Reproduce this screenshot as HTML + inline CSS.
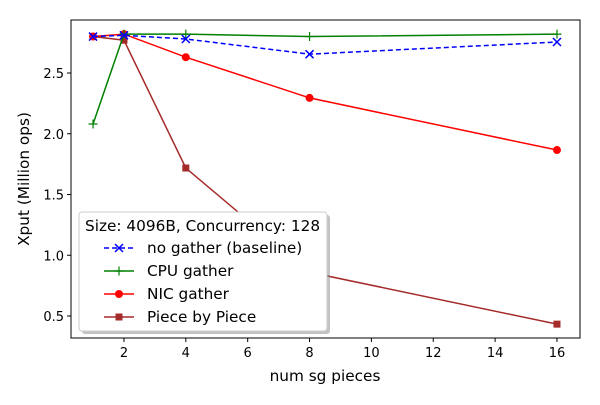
<!DOCTYPE html>
<html><head><meta charset="utf-8"><style>
body{margin:0;background:#fff;font-family:"Liberation Sans","DejaVu Sans",sans-serif;}
</style></head><body>
<svg id="c" width="600" height="400" xmlns="http://www.w3.org/2000/svg" font-family="'DejaVu Sans','Liberation Sans',sans-serif"></svg>
<script>
const xs = [1, 2, 4, 8, 16];
const noGather = [2.80, 2.81, 2.78, 2.655, 2.755];
const cpuGather = [2.08, 2.82, 2.82, 2.80, 2.82];
const nicGather = [2.80, 2.82, 2.63, 2.295, 1.866];
const pieceByPiece = [2.80, 2.77, 1.718, 0.86, 0.433];
const xTicks = [2, 4, 6, 8, 10, 12, 14, 16];
const yTicks = [0.5, 1.0, 1.5, 2.0, 2.5];

const NS = "http://www.w3.org/2000/svg";
const svg = document.getElementById('c');
const L=71,R=580,T=20,B=338;
const xS = v => 62.1 + v*30.93;
const yS = v => 376.75 - v*121.5;
function el(tag, attrs, parent){const e=document.createElementNS(NS,tag);for(const k in attrs)e.setAttribute(k,attrs[k]);(parent||svg).appendChild(e);return e;}

const frame = el('rect',{x:L,y:T,width:R-L,height:B-T,fill:'none',stroke:'#000','stroke-width':1});



xTicks.forEach(t=>{
  const g=el('g',{});
  
  
  el('line',{x1:xS(t),x2:xS(t),y1:B,y2:B+4,stroke:'#000'},g);
  const tx=el('text',{x:xS(t),y:B+19,'text-anchor':'middle','font-size':13},g);tx.textContent=t;
});
yTicks.forEach(t=>{
  const g=el('g',{});
  
  
  el('line',{x1:L-4,x2:L,y1:yS(t),y2:yS(t),stroke:'#000'},g);
  const tx=el('text',{x:L-7,y:yS(t)+5,'text-anchor':'end','font-size':13},g);tx.textContent=t.toFixed(1);
});
const xt=el('text',{x:325,y:381,'text-anchor':'middle','font-size':15.3});xt.textContent='num sg pieces';


const yt=el('text',{x:0,y:0,'text-anchor':'middle','font-size':15.3,transform:'translate(29,179) rotate(-90)'});yt.textContent='Xput (Million ops)';



function marker(type,x,y,color,parent){
  if(type==='x'){el('path',{d:`M${x-4},${y-4}L${x+4},${y+4}M${x-4},${y+4}L${x+4},${y-4}`,stroke:color,'stroke-width':1.5,fill:'none'},parent);}
  else if(type==='+'){el('path',{d:`M${x-4.5},${y}L${x+4.5},${y}M${x},${y-4.5}L${x},${y+4.5}`,stroke:color,'stroke-width':1.2,fill:'none'},parent);}
  else if(type==='o'){el('circle',{cx:x,cy:y,r:4,fill:color},parent);}
  else {el('rect',{x:x-3.5,y:y-3.5,width:7,height:7,fill:color},parent);}
}
const series=[
 {name:'series-piece-by-piece',data:pieceByPiece,color:'#a52a2a',m:'s',dash:''},
 {name:'series-nic-gather',data:nicGather,color:'#ff0000',m:'o',dash:''},
 {name:'series-cpu-gather',data:cpuGather,color:'#008000',m:'+',dash:''},
 {name:'series-no-gather',data:noGather,color:'#0000ff',m:'x',dash:'5,3'},
];
series.forEach(s=>{
  const g=el('g',{});
  
  
  const pts=xs.map((x,i)=>xS(x)+','+yS(s.data[i])).join(' ');
  el('polyline',{points:pts,fill:'none',stroke:s.color,'stroke-width':1.5,'stroke-dasharray':s.dash},g);
  xs.forEach((x,i)=>marker(s.m,xS(x),yS(s.data[i]),s.color,g));
});

const lg=el('g',{});


el('rect',{x:82,y:215,width:248,height:119,rx:3,fill:'#888',opacity:0.5},lg);
el('rect',{x:79,y:212,width:248,height:119,rx:3,fill:'#fff',stroke:'#ccc'},lg);
const lt=el('text',{x:85,y:231,'font-size':15.3},lg);lt.textContent='Size: 4096B, Concurrency: 128';
const entries=[
 ['no gather (baseline)','#0000ff','x','5,3'],
 ['CPU gather','#008000','+',''],
 ['NIC gather','#ff0000','o',''],
 ['Piece by Piece','#a52a2a','s',''],
];
entries.forEach((e,i)=>{
  const y=248+i*23;
  const g=el('g',{},lg);
  
  
  el('line',{x1:104,x2:134,y1:y,y2:y,stroke:e[1],'stroke-width':1.5,'stroke-dasharray':e[3]},g);
  marker(e[2],119,y,e[1],g);
  const t=el('text',{x:147,y:y+5,'font-size':15.3},g);t.textContent=e[0];
});
</script>
</body></html>
